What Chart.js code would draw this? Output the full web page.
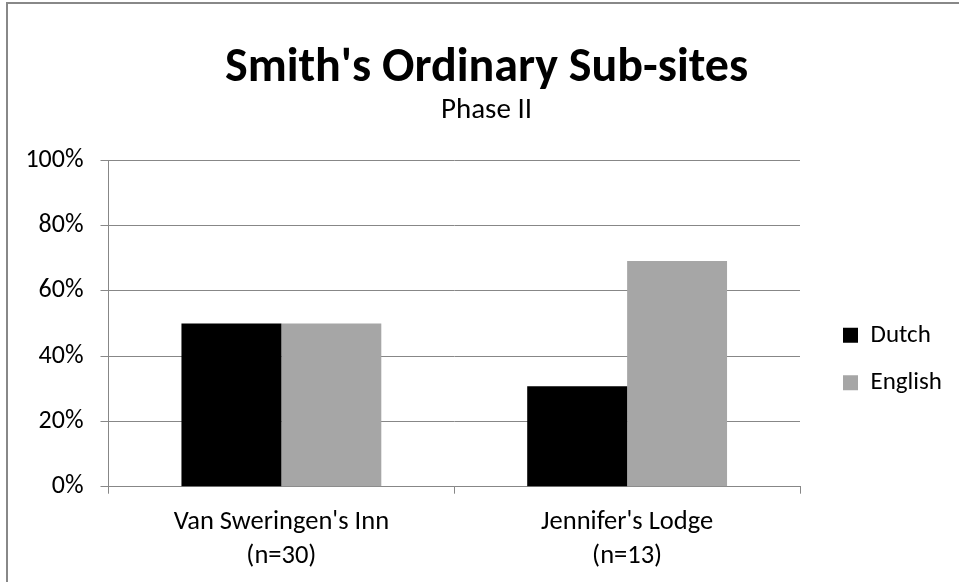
<!DOCTYPE html>
<html>
<head>
<meta charset="utf-8">
<script src="https://cdn.jsdelivr.net/npm/chart.js@4.4.1/dist/chart.umd.min.js"></script>
<style>
  html, body { margin: 0; padding: 0; background: #fff; overflow: hidden; }
  #wrap { position: absolute; left: 0; top: 0; width: 959px; height: 582px; }
  #frame { position: absolute; left: 6px; top: 2px; width: 1000px; height: 1000px;
           border-top: 2px solid #888; border-left: 2px solid #888; pointer-events: none; }
</style>
</head>
<body>
<div id="wrap"><canvas id="chart" width="959" height="582"></canvas></div>
<div id="frame"></div>
<script>
// chart data
const categories = [["Van Sweringen's Inn", "(n=30)"], ["Jennifer's Lodge", "(n=13)"]];
const dutch = [50, 30.8];
const english = [50, 69.2];
const yTicks = [0, 20, 40, 60, 80, 100];

const font = "Carlito, Calibri, 'Liberation Sans Narrow', 'Open Sans', sans-serif";
const gridColor = "#878787";

// nudge legend + titles to where Excel puts them
const boxNudge = {
    id: "boxNudge",
    afterLayout(chart) {
        let lg = chart.legend;
        if (lg) {
            lg.left += 20.5; lg.right += 20.5;
            lg.top += 66; lg.bottom += 66;
        }
        chart.boxes.forEach(b => {
            if (b !== lg && b.position === "top" && b.options && "text" in b.options) {
                b.left += 8.25; b.right += 8.25;
            }
        });
    }
};

let ctx = document.getElementById("chart");
new Chart(ctx, {
    type: "bar",
    data: {
        labels: categories,
        datasets: [
            { label: "Dutch", data: dutch, backgroundColor: "#000000", categoryPercentage: 0.578, barPercentage: 1.0 },
            { label: "English", data: english, backgroundColor: "#a6a6a6", categoryPercentage: 0.578, barPercentage: 1.0 }
        ]
    },
    plugins: [boxNudge],
    options: {
        responsive: false,
        animation: false,
        layout: { padding: { left: 25, right: 27.5, top: 12, bottom: 8 } },
        plugins: {
            title: {
                display: true,
                text: "Smith's Ordinary Sub-sites",
                color: "#000",
                font: { family: font, size: 48, weight: "bold" },
                padding: { top: 28, bottom: -4 }
            },
            subtitle: {
                display: true,
                text: "Phase II",
                color: "#000",
                font: { family: font, size: 29 },
                padding: { top: 0, bottom: 32 }
            },
            legend: {
                position: "right",
                labels: {
                    color: "#000",
                    font: { family: font, size: 25 },
                    boxWidth: 15,
                    boxHeight: 15,
                    padding: 22.5
                }
            },
            tooltip: { enabled: false }
        },
        scales: {
            x: {
                afterFit: function (axis) { axis.height = 87.3; },
                grid: { offset: true, drawOnChartArea: false, drawTicks: true, tickLength: 7, color: gridColor },
                border: { color: gridColor },
                ticks: { color: "#000", font: { family: font, size: 26.5, lineHeight: 1.28 }, padding: 12 }
            },
            y: {
                min: 0,
                max: 100,
                afterBuildTicks: function (axis) {
                    axis.ticks = yTicks.map(v => ({ value: v }));
                },
                afterFit: function (axis) { axis.width = 83.5; },
                grid: { color: gridColor, tickLength: 8 },
                border: { color: gridColor },
                ticks: {
                    color: "#000",
                    font: { family: font, size: 26 },
                    padding: 17,
                    callback: v => v + "%"
                }
            }
        }
    }
});
</script>
</body>
</html>
